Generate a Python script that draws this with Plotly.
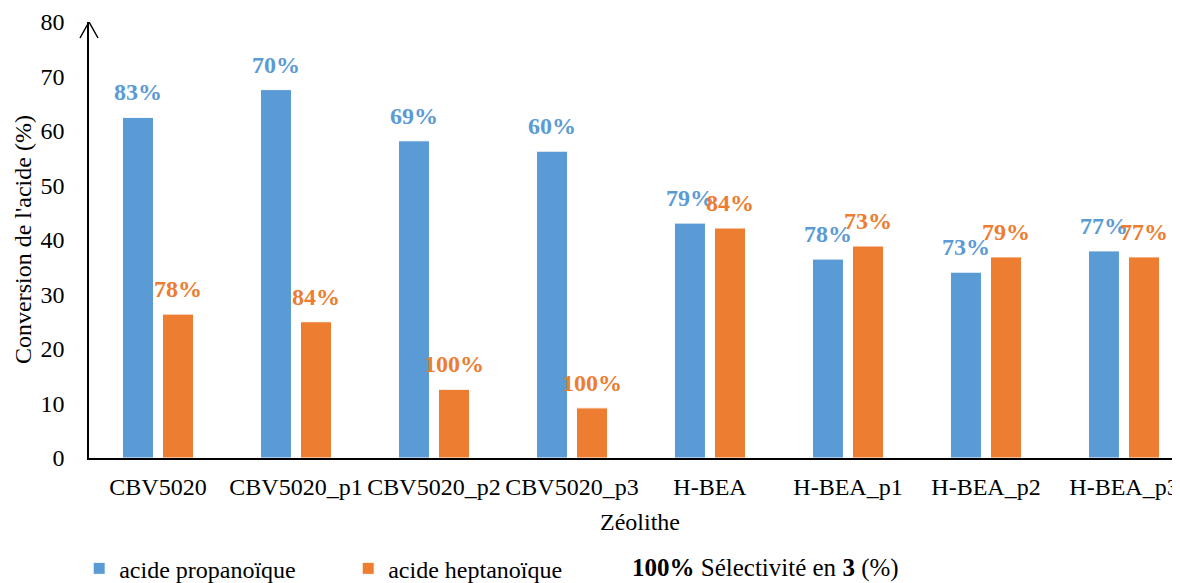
import plotly.graph_objects as go

categories = ["CBV5020", "CBV5020_p1", "CBV5020_p2", "CBV5020_p3",
              "H-BEA", "H-BEA_p1", "H-BEA_p2", "H-BEA_p3"]
propanoic = [62.5, 67.6, 58.2, 56.3, 43.1, 36.5, 34.1, 38.0]
heptanoic = [26.4, 25.0, 12.6, 9.2, 42.2, 38.9, 36.9, 36.9]
sel_propanoic = ["83%", "70%", "69%", "60%", "79%", "78%", "73%", "77%"]
sel_heptanoic = ["78%", "84%", "100%", "100%", "84%", "73%", "79%", "77%"]

BLUE = "#5B9BD5"
ORANGE = "#ED7D31"
FONT = "Liberation Serif, Times New Roman, serif"

fig = go.Figure()
fig.add_bar(x=categories, y=propanoic, name="acide propanoïque",
            marker=dict(color=BLUE, line=dict(color="white", width=1)))
fig.add_bar(x=categories, y=heptanoic, name="acide heptanoïque",
            marker=dict(color=ORANGE, line=dict(color="white", width=1)))

annotations = []
for c, v, t in zip(categories, propanoic, sel_propanoic):
    annotations.append(dict(x=c, y=v, xref="x", yref="y", text="<b>" + t + "</b>",
                            showarrow=False, xanchor="center", yanchor="middle",
                            xshift=-20, yshift=25,
                            font=dict(family=FONT, size=24, color=BLUE)))
for c, v, t in zip(categories, heptanoic, sel_heptanoic):
    annotations.append(dict(x=c, y=v, xref="x", yref="y", text="<b>" + t + "</b>",
                            showarrow=False, xanchor="center", yanchor="middle",
                            xshift=20, yshift=25,
                            font=dict(family=FONT, size=24, color=ORANGE)))

# axis titles
annotations.append(dict(x=0.5, y=0, xref="paper", yref="paper", text="Zéolithe",
                        showarrow=False, xanchor="center", yanchor="middle",
                        yshift=-64, xshift=5,
                        font=dict(family=FONT, size=24, color="black")))
annotations.append(dict(x=0, y=0.5, xref="paper", yref="paper",
                        text="Conversion de l'acide (%)", textangle=-90,
                        showarrow=False, xanchor="center", yanchor="middle",
                        xshift=-66,
                        font=dict(family=FONT, size=24, color="black")))
# third legend item
annotations.append(dict(x=0, y=0, xref="paper", yref="paper",
                        text="<b>100%</b> Sélectivité en <b>3</b> (%)",
                        showarrow=False, xanchor="left", yanchor="middle",
                        xshift=541, yshift=-110,
                        font=dict(family=FONT, size=25, color="black")))

# the page body adds an 8px margin, so the figure is 8px smaller on each axis
fig.update_layout(
    width=1172, height=575,
    margin=dict(l=81, r=0, t=14, b=125, autoexpand=False),
    plot_bgcolor="white", paper_bgcolor="white",
    barmode="group", bargap=0.42, bargroupgap=0.225,
    font=dict(family=FONT, size=24, color="black"),
    xaxis=dict(range=[-0.5, 7.406], showline=True, linecolor="black", linewidth=1.5,
               ticks="", showgrid=False, ticklabelstandoff=6, automargin=False,
               tickfont=dict(family=FONT, size=24)),
    yaxis=dict(range=[0, 80], dtick=10, showline=True, linecolor="black", linewidth=1.5,
               ticks="", showgrid=False, zeroline=False, ticklabelstandoff=18,
               automargin=False, tickfont=dict(family=FONT, size=24)),
    legend=dict(orientation="h", x=-0.009, xanchor="left", y=-0.254, yanchor="middle",
                xref="paper", entrywidth=224, entrywidthmode="pixels",
                font=dict(family=FONT, size=24), itemwidth=30),
    annotations=annotations,
    shapes=[dict(type="path", xref="paper", yref="y", xsizemode="pixel", ysizemode="pixel",
                 xanchor=0, yanchor=80, path="M -9,-16 L 0,0 L 9,-16",
                 line=dict(color="black", width=1.5))],
)

fig.write_html("out.html")
